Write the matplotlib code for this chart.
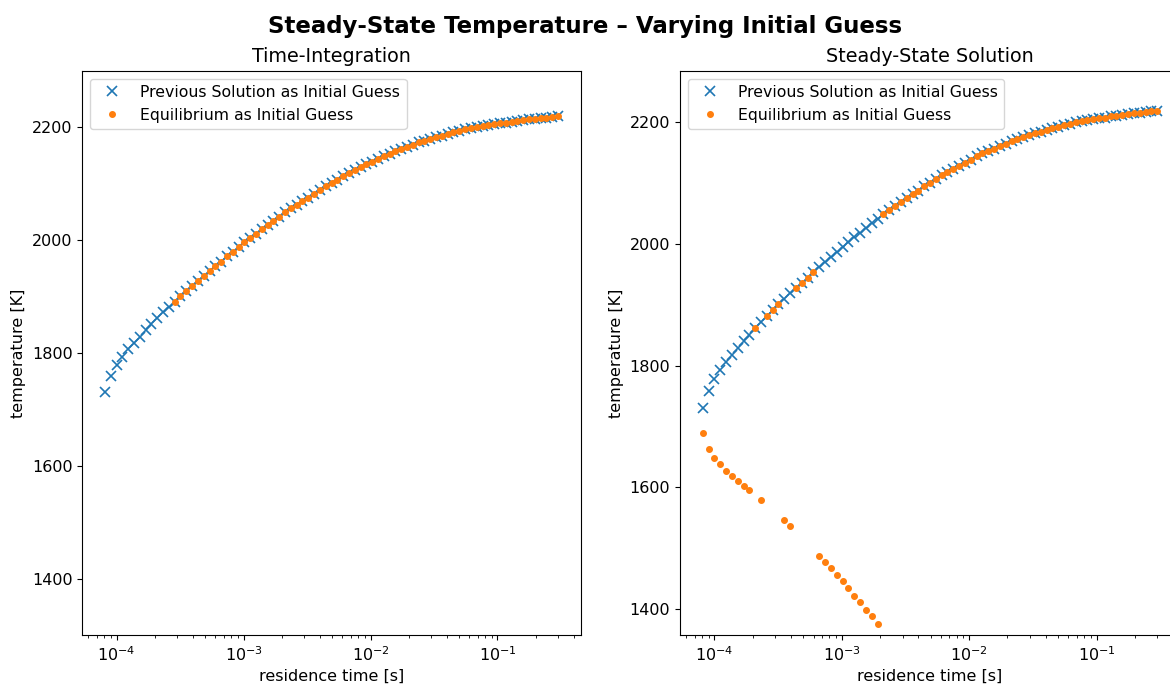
import numpy as np
import matplotlib.pyplot as plt

# residence time [s] (ascending)
residence_time = [
    8.09e-5, 8.99e-5, 9.99e-5, 1.110e-4, 1.233e-4, 1.370e-4, 1.523e-4, 1.692e-4, 1.880e-4, 2.089e-4,
    2.321e-4, 2.579e-4, 2.865e-4, 3.183e-4, 3.537e-4, 3.930e-4, 4.367e-4, 4.852e-4, 5.391e-4, 5.990e-4,
    6.656e-4, 7.395e-4, 8.217e-4, 9.130e-4, 1.0144e-3, 1.1271e-3, 1.2524e-3, 1.3915e-3, 1.5461e-3, 1.7179e-3,
    1.9088e-3, 2.1209e-3, 2.3566e-3, 2.6184e-3, 2.9093e-3, 3.2326e-3, 3.5918e-3, 3.9908e-3, 4.4343e-3, 4.9270e-3,
    5.4744e-3, 6.0827e-3, 6.7585e-3, 7.5095e-3, 8.3439e-3, 9.2709e-3, 1.0301e-2, 1.1446e-2, 1.2717e-2, 1.4130e-2,
    1.5700e-2, 1.7445e-2, 1.9383e-2, 2.1537e-2, 2.3930e-2, 2.6589e-2, 2.9543e-2, 3.2826e-2, 3.6473e-2, 4.0526e-2,
    4.5028e-2, 5.0032e-2, 5.5591e-2, 6.1767e-2, 6.8630e-2, 7.6256e-2, 8.4729e-2, 9.4143e-2, 0.10460, 0.11623,
    0.12914, 0.14349, 0.15943, 0.17715, 0.19683, 0.2187, 0.243, 0.27, 0.3,
]

# previous solution as initial guess (same in both panels)
temp_previous = [
    1731, 1759, 1778, 1793, 1807, 1817, 1829, 1840, 1851, 1862,
    1872, 1882, 1891, 1901, 1910, 1919, 1928, 1936, 1945, 1954,
    1962, 1971, 1979, 1987, 1996, 2004, 2011, 2019, 2027, 2034,
    2041, 2049, 2056, 2062, 2069, 2075, 2082, 2088, 2095, 2101,
    2107, 2113, 2118, 2124, 2129, 2134, 2139, 2144, 2149, 2153,
    2157, 2161, 2165, 2169, 2173, 2176, 2179, 2182, 2185, 2188,
    2191, 2193, 2196, 2198, 2200, 2202, 2204, 2205, 2207, 2208,
    2210, 2211, 2212, 2214, 2215, 2216, 2217, 2218, 2219,
]

# equilibrium as initial guess, time integration (no result for the shortest times)
temp_equil_ti = [
    np.nan, np.nan, np.nan, np.nan, np.nan, np.nan, np.nan, np.nan, np.nan, np.nan,
    np.nan, np.nan, 1891, 1901, 1910, 1919, 1928, 1936, 1945, 1954,
    1962, 1971, 1979, 1987, 1996, 2004, 2011, 2019, 2027, 2034,
    2041, 2049, 2056, 2062, 2069, 2075, 2082, 2088, 2095, 2101,
    2107, 2113, 2118, 2124, 2129, 2134, 2139, 2144, 2149, 2153,
    2157, 2161, 2165, 2169, 2173, 2176, 2179, 2182, 2185, 2188,
    2191, 2193, 2196, 2198, 2200, 2202, 2204, 2205, 2207, 2208,
    2210, 2211, 2212, 2214, 2215, 2216, 2217, 2218, 2219,
]

# equilibrium as initial guess, steady-state solver
temp_equil_ss = [
    1689, 1663, 1649, 1638, 1627, 1619, 1611, 1602, 1595, 1862,
    1579, 1882, 1891, 1901, 1546, 1536, 1928, 1936, 1945, 1954,
    1488, 1478, 1467, 1456, 1446, 1434, 1422, 1411, 1399, 1388,
    1376, 2049, 2056, 2062, 2069, 2075, 2082, 2088, 2095, 2101,
    2107, 2113, 2118, 2124, 2129, 2134, 2139, 2144, 2149, 2153,
    2157, 2161, 2165, 2169, 2173, 2176, 2179, 2182, 2185, 2188,
    2191, 2193, 2196, 2198, 2200, 2202, 2204, 2205, 2207, 2208,
    2210, 2211, 2212, 2214, 2215, 2216, 2217, 2218, 2219,
]

plt.rcParams['font.size'] = 11.5

fig = plt.figure(figsize=(11.7, 6.84), dpi=100)
W, H = 1170, 684
ax1 = fig.add_axes([82.3 / W, 1 - 635.3 / H, (580.7 - 82.3) / W, (635.3 - 70.7) / H])
ax2 = fig.add_axes([680 / W, 1 - 635.3 / H, (1180 - 680) / W, (635.3 - 70.7) / H])

panels = [
    (ax1, temp_equil_ti, 'Time-Integration', (1300, 2300)),
    (ax2, temp_equil_ss, 'Steady-State Solution', (1357, 2285)),
]
for ax, t_eq, title, ylim in panels:
    ax.plot(residence_time, temp_previous, 'x', color='C0', markersize=7, markeredgewidth=1.2,
            linestyle='none', label='Previous Solution as Initial Guess')
    ax.plot(residence_time, t_eq, 'o', color='C1', markersize=4, linestyle='none',
            label='Equilibrium as Initial Guess')
    ax.set_xscale('log')
    ax.set_ylim(*ylim)
    ax.set_title(title, fontsize=13.8)
    ax.set_xlabel('residence time [s]')
    ax.set_ylabel('temperature [K]')
    ax.legend(loc='upper left', fontsize=11.3)

fig.suptitle('Steady-State Temperature – Varying Initial Guess', fontsize=16.5, fontweight='bold',
             x=0.5, y=0.978)

fig.savefig('out.png', dpi=100)
